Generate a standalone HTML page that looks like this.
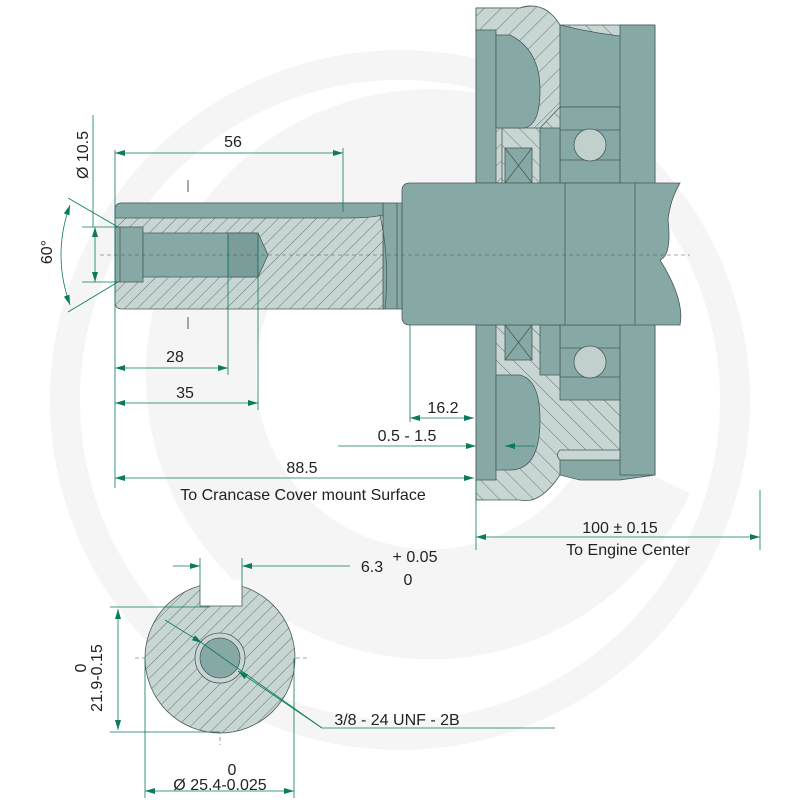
<!DOCTYPE html>
<html><head><meta charset="utf-8"><style>
html,body{margin:0;padding:0;background:#fff}
svg{display:block}
text{font-family:"Liberation Sans",sans-serif;fill:#222}
</style></head><body>
<svg width="800" height="800" viewBox="0 0 800 800" xmlns="http://www.w3.org/2000/svg">
<defs>
<pattern id="h" width="9" height="9" patternUnits="userSpaceOnUse" patternTransform="rotate(45)">
<rect width="9" height="9" fill="#c8d6d3"/><line x1="0" y1="0" x2="0" y2="9" stroke="#4c5c5c" stroke-width="0.8"/>
</pattern>
<pattern id="h2" width="12" height="12" patternUnits="userSpaceOnUse" patternTransform="rotate(-45)">
<rect width="12" height="12" fill="#c8d6d3"/><line x1="0" y1="0" x2="0" y2="12" stroke="#4c5c5c" stroke-width="0.8"/>
</pattern>
<pattern id="h3" width="12" height="12" patternUnits="userSpaceOnUse" patternTransform="rotate(45)">
<rect width="12" height="12" fill="#c8d6d3"/><line x1="0" y1="0" x2="0" y2="12" stroke="#4c5c5c" stroke-width="0.8"/>
</pattern>
<marker id="a" viewBox="0 0 10 6" refX="10" refY="3" markerWidth="10" markerHeight="6" orient="auto-start-reverse" markerUnits="userSpaceOnUse"><path d="M0,0L10,3L0,6z" fill="#0b7a5e"/></marker>
</defs>
<g fill="none" stroke="#f5f5f5">
<circle cx="400" cy="400" r="335" stroke-width="30"/>
<path d="M610,230 A230,230 0 1 0 640,470" stroke-width="110"/>
</g>
<g stroke="#4a5a5a" stroke-width="0.8">
<path d="M476,8 L520,8 Q540,0 560,25 L655,25 L655,475 L560,475 Q540,505 520,500 L476,500 Z" fill="url(#h2)"/>
<path d="M476,8 L520,8 Q545,0 560,25 L560,55 Q560,90 620,95 L620,107 L560,107 L540,128 L502,128 L502,183 L476,183Z" fill="url(#h3)"/>
<path d="M560,25 Q600,35 640,38 L655,45 L655,475 L620,480 L580,480 L560,475 L560,460 L620,460 L620,107 L560,107 L560,55 Q560,40 560,25Z" fill="#86a9a6"/>
<rect x="476" y="30" width="20" height="153" fill="#86a9a6"/>
<path d="M496,35 L510,35 Q540,50 540,90 Q540,130 520,128 L496,128Z" fill="#86a9a6"/>
<rect x="476" y="325" width="20" height="155" fill="#86a9a6"/>
<path d="M496,375 L520,375 Q540,380 540,420 Q540,470 510,470 L496,470Z" fill="#86a9a6"/>
<rect x="560" y="107" width="60" height="76" fill="#86a9a6"/>
<rect x="560" y="325" width="60" height="75" fill="#86a9a6"/>
<line x1="560" y1="130" x2="620" y2="130"/><line x1="560" y1="160" x2="620" y2="160"/>
<line x1="560" y1="348" x2="620" y2="348"/><line x1="560" y1="377" x2="620" y2="377"/>
<circle cx="590" cy="145" r="16" fill="#c2d0cd"/>
<circle cx="590" cy="362" r="16" fill="#c2d0cd"/>
<rect x="540" y="128" width="20" height="55" fill="#86a9a6"/>
<rect x="540" y="325" width="20" height="50" fill="#86a9a6"/>
<rect x="505" y="148" width="27" height="35" fill="#86a9a6"/><path d="M505,148L532,183M532,148L505,183"/>
<rect x="505" y="325" width="27" height="35" fill="#86a9a6"/><path d="M505,325L532,360M532,325L505,360"/>
<rect x="620" y="25" width="35" height="450" fill="#86a9a6"/>
<path d="M560,450 L620,450 L620,460 L560,460 Q555,455 560,450Z" fill="#c8d6d3"/>
<path d="M410,183 L680,183 Q670,200 668,220 Q672,255 660,260 Q685,300 680,325 L410,325 Q402,325 402,317 L402,191 Q402,183 410,183Z" fill="#86a9a6"/>
<line x1="565" y1="183" x2="565" y2="325"/><line x1="635" y1="183" x2="635" y2="325"/>
<rect x="383" y="203" width="19" height="106" fill="#86a9a6"/>
<line x1="397" y1="203" x2="397" y2="309"/>
<path d="M122,203 L383,203 L383,309 L122,309 Q115,309 115,302 L115,210 Q115,203 122,203Z" fill="url(#h)"/>
<path d="M122,203 L383,203 L383,215 Q370,218 345,218 L115,218 L115,210 Q115,203 122,203Z" fill="#86a9a6"/>
<path d="M380,215 Q390,260 385,309" fill="none"/>
<rect x="115" y="227" width="28" height="55" fill="#86a9a6"/>
<line x1="120" y1="227" x2="120" y2="282"/>
<path d="M143,233 L228,233 L258,233 L268,255 L258,277 L143,277Z" fill="#86a9a6"/>
<rect x="228" y="233" width="30" height="44" fill="#7a9d9a"/>
</g>
<g stroke="#555" stroke-width="0.6" stroke-dasharray="4,3" fill="none">
<line x1="100" y1="255" x2="690" y2="255"/>
<line x1="135" y1="658" x2="310" y2="658"/>
<line x1="220" y1="590" x2="220" y2="745"/>
</g>
<line x1="188" y1="180" x2="188" y2="192" stroke="#555"/><line x1="188" y1="317" x2="188" y2="329" stroke="#555"/>
<g stroke="#4a5a5a" stroke-width="0.8">
<circle cx="220" cy="658" r="75" fill="url(#h)"/>
<rect x="200" y="580" width="42" height="26" fill="#fff" stroke="none"/>
<path d="M200,584 L200,606 L242,606 L242,584" fill="none"/>
<circle cx="220" cy="658" r="25" fill="#c8d6d3"/>
<circle cx="220" cy="658" r="20" fill="#86a9a6"/>
</g>
<g stroke="#0b7a5e" stroke-width="0.8" fill="none">
<line x1="115" y1="150" x2="115" y2="488"/>
<line x1="343" y1="148" x2="343" y2="212"/>
<line x1="115" y1="153" x2="343" y2="153" marker-start="url(#a)" marker-end="url(#a)"/>
<line x1="93" y1="115" x2="93" y2="227"/>
<line x1="82" y1="227" x2="118" y2="227"/><line x1="82" y1="282" x2="118" y2="282"/>
<line x1="95" y1="227" x2="95" y2="282" marker-start="url(#a)" marker-end="url(#a)"/>
<line x1="68" y1="198" x2="118" y2="227"/><line x1="68" y1="312" x2="118" y2="282"/>
<path d="M70,205 Q52,255 70,305" marker-start="url(#a)" marker-end="url(#a)"/>
<line x1="228" y1="235" x2="228" y2="375"/>
<line x1="115" y1="368" x2="228" y2="368" marker-start="url(#a)" marker-end="url(#a)"/>
<line x1="258" y1="240" x2="258" y2="410"/>
<line x1="115" y1="403" x2="258" y2="403" marker-start="url(#a)" marker-end="url(#a)"/>
<line x1="410" y1="325" x2="410" y2="422"/>
<line x1="410" y1="418" x2="474" y2="418" marker-start="url(#a)" marker-end="url(#a)"/>
<line x1="338" y1="446" x2="476" y2="446" marker-end="url(#a)"/>
<line x1="535" y1="446" x2="505" y2="446" marker-end="url(#a)"/>
<line x1="115" y1="478" x2="474" y2="478" marker-start="url(#a)" marker-end="url(#a)"/>
<line x1="476" y1="480" x2="476" y2="550"/>
<line x1="760" y1="490" x2="760" y2="550"/>
<line x1="476" y1="537" x2="760" y2="537" marker-start="url(#a)" marker-end="url(#a)"/>
<line x1="200" y1="558" x2="200" y2="585"/><line x1="242" y1="558" x2="242" y2="585"/>
<line x1="173" y1="566" x2="200" y2="566" marker-end="url(#a)"/>
<line x1="350" y1="566" x2="242" y2="566" marker-end="url(#a)"/>
<line x1="110" y1="607" x2="210" y2="607"/><line x1="110" y1="732" x2="220" y2="732"/>
<line x1="118" y1="609" x2="118" y2="730" marker-start="url(#a)" marker-end="url(#a)"/>
<line x1="145" y1="658" x2="145" y2="798"/><line x1="294" y1="658" x2="294" y2="798"/>
<line x1="145" y1="791" x2="294" y2="791" marker-start="url(#a)" marker-end="url(#a)"/>
<line x1="165" y1="620" x2="202" y2="643" marker-end="url(#a)"/>
<polyline points="202,643 322,728 555,728"/>
<line x1="322" y1="728" x2="238" y2="671" marker-end="url(#a)"/>
</g>
<g font-size="16">
<text x="233" y="147" text-anchor="middle">56</text>
<text x="88" y="155" text-anchor="middle" transform="rotate(-90 88 155)">Ø 10.5</text>
<text x="52" y="252" text-anchor="middle" transform="rotate(-90 52 252)">60°</text>
<text x="175" y="362" text-anchor="middle">28</text>
<text x="185" y="398" text-anchor="middle">35</text>
<text x="443" y="413" text-anchor="middle">16.2</text>
<text x="407" y="441" text-anchor="middle">0.5 - 1.5</text>
<text x="302" y="473" text-anchor="middle">88.5</text>
<text x="303" y="500" text-anchor="middle">To Crancase Cover mount Surface</text>
<text x="620" y="533" text-anchor="middle">100 ± 0.15</text>
<text x="628" y="555" text-anchor="middle">To Engine Center</text>
<text x="372" y="572" text-anchor="middle">6.3</text>
<text x="415" y="562" text-anchor="middle">+ 0.05</text>
<text x="408" y="585" text-anchor="middle">0</text>
<text x="86" y="668" text-anchor="middle" transform="rotate(-90 86 668)">0</text>
<text x="102" y="678" text-anchor="middle" transform="rotate(-90 102 678)">21.9-0.15</text>
<text x="397" y="725" text-anchor="middle">3/8 - 24 UNF - 2B</text>
<text x="232" y="775" text-anchor="middle">0</text>
<text x="220" y="790" text-anchor="middle">Ø 25.4-0.025</text>
</g>
</svg>
</body></html>
